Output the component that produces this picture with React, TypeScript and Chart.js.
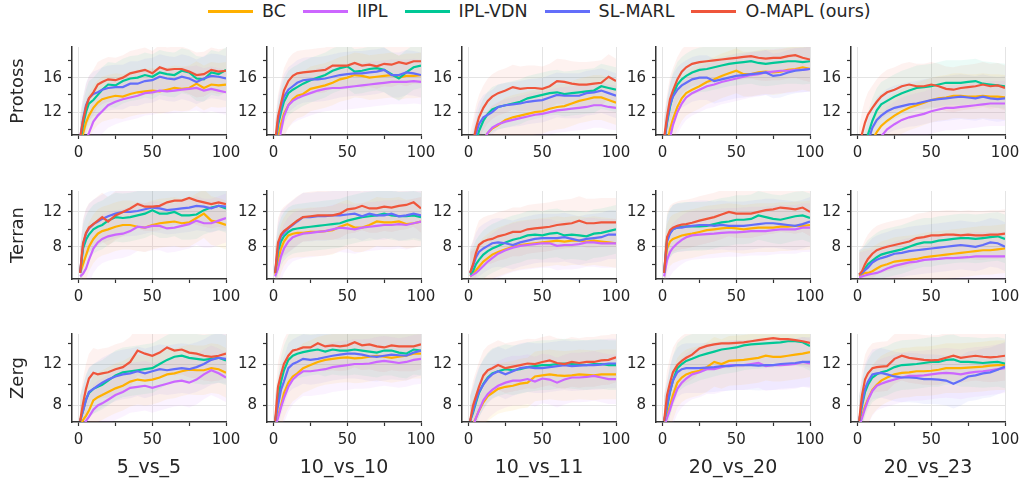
import React, { useEffect, useRef } from "react";
import { Chart, registerables } from "chart.js";

Chart.register(...registerables);

// ---------------- data ----------------
const STEPS = [1, 3, 5, 7, 10, 13, 16, 20, 25, 30, 35, 40, 45, 50, 55, 60, 65, 70, 75, 80, 85, 90, 95, 100];
const METHODS = ["BC", "IIPL", "IPL-VDN", "SL-MARL", "O-MAPL (ours)"];
const RACES = ["Protoss", "Terran", "Zerg"];
const SCENARIOS = ["5_vs_5", "10_vs_10", "10_vs_11", "20_vs_20", "20_vs_23"];
const X_TICKS = [0, 25, 50, 75, 100];
const X_TICK_LABELS = [0, 50, 100];
const Y_TICKS = [[10, 12, 14, 16, 18], [6, 8, 10, 12, 14], [8, 10, 12, 14]];
const Y_TICK_LABELS = [[12, 16], [8, 12], [8, 12]];
const Y_MIN = [9.35, 4.3, 6.4];
const Y_MAX = [19.55, 14.4, 14.9];
const BAND_HALF_WIDTH = [2.6, 2.8, 2.4];

// each panel: [BC, IIPL, IPL-VDN, SL-MARL, O-MAPL]
const PROTOSS_5_VS_5 = [
  [8.0, 9.5, 10.8, 11.6, 12.5, 13.1, 13.5, 13.7, 13.9, 13.8, 14.1, 14.3, 14.4, 14.5, 14.4, 14.6, 14.8, 14.7, 14.8, 15.3, 14.8, 15.2, 15.1, 15.2],
  [7.0, 8.0, 8.8, 9.6, 10.9, 11.6, 12.1, 12.8, 13.2, 13.5, 13.7, 13.9, 14.2, 14.3, 14.5, 14.4, 14.5, 14.6, 14.7, 14.8, 14.5, 14.7, 14.5, 14.3],
  [8.5, 10.5, 12.0, 13.0, 13.4, 14.0, 14.6, 15.2, 15.1, 15.6, 15.9, 16.0, 16.3, 16.1, 16.6, 16.4, 16.3, 16.8, 16.6, 15.9, 15.8, 16.6, 16.4, 16.9],
  [9.0, 11.2, 12.8, 13.6, 14.1, 14.3, 14.6, 14.8, 14.9, 14.9, 15.3, 15.3, 15.6, 15.7, 16.1, 15.9, 15.8, 16.1, 15.9, 15.5, 15.9, 16.2, 16.1, 15.9],
  [9.0, 11.0, 12.6, 13.6, 14.3, 15.2, 15.5, 15.8, 15.7, 16.0, 16.5, 16.7, 16.9, 16.5, 17.2, 16.9, 17.0, 17.0, 16.7, 16.3, 16.4, 16.9, 16.7, 16.8],
];
const PROTOSS_10_VS_10 = [
  [7.0, 9.0, 10.6, 11.8, 12.8, 13.5, 13.9, 14.1, 14.7, 14.9, 15.1, 15.4, 15.8, 16.0, 16.3, 16.2, 16.0, 16.1, 16.2, 16.3, 16.0, 16.2, 16.2, 16.3],
  [6.5, 8.0, 9.8, 11.5, 12.8, 13.3, 13.6, 13.9, 14.2, 14.5, 14.7, 14.8, 14.8, 14.9, 15.0, 15.1, 15.2, 15.3, 15.4, 15.5, 15.5, 15.5, 15.6, 15.5],
  [8.0, 10.5, 12.0, 13.2, 14.2, 14.6, 14.9, 15.3, 15.7, 16.0, 16.3, 16.8, 17.1, 17.3, 16.7, 16.8, 17.0, 17.1, 16.9, 16.4, 15.9, 16.6, 17.2, 17.4],
  [8.0, 11.0, 12.6, 13.8, 14.6, 15.0, 15.4, 15.7, 15.8, 15.8, 15.9, 16.1, 16.3, 16.4, 16.5, 16.5, 16.6, 16.7, 16.9, 16.3, 16.3, 16.6, 16.5, 16.3],
  [8.5, 11.5, 13.0, 14.5, 15.6, 16.2, 16.5, 16.6, 16.7, 16.8, 16.9, 17.4, 17.4, 17.4, 17.7, 17.4, 17.5, 17.3, 17.6, 17.5, 17.8, 17.6, 17.9, 17.9],
];
const PROTOSS_10_VS_11 = [
  [5.0, 6.0, 7.0, 7.8, 8.8, 9.6, 10.1, 10.5, 11.1, 11.4, 11.6, 11.8, 12.0, 12.1, 12.4, 12.6, 12.7, 13.0, 13.3, 13.5, 13.7, 13.7, 13.4, 13.1],
  [5.0, 6.0, 7.0, 7.8, 8.8, 9.6, 10.2, 10.6, 10.9, 11.1, 11.3, 11.5, 11.7, 11.8, 12.0, 12.2, 12.3, 12.4, 12.5, 12.6, 12.8, 12.8, 12.6, 12.5],
  [5.5, 7.0, 8.5, 9.8, 11.0, 11.8, 12.3, 12.6, 12.8, 13.0, 13.2, 13.6, 13.8, 14.0, 14.2, 14.3, 14.1, 14.2, 14.3, 14.4, 14.5, 15.0, 14.8, 14.6],
  [6.0, 7.5, 9.5, 10.6, 11.4, 11.7, 12.0, 12.6, 12.8, 12.9, 13.0, 13.2, 13.3, 13.4, 13.7, 14.0, 13.9, 13.9, 13.9, 14.2, 14.3, 14.5, 14.2, 13.9],
  [7.0, 8.5, 10.2, 11.4, 12.5, 13.3, 13.8, 14.2, 14.5, 14.9, 14.7, 14.8, 14.8, 14.7, 15.0, 15.6, 15.5, 15.3, 15.2, 15.2, 15.3, 15.4, 16.1, 15.6],
];
const PROTOSS_20_VS_20 = [
  [7.0, 8.5, 10.0, 11.2, 12.6, 13.6, 14.2, 14.6, 15.0, 15.5, 15.8, 16.2, 16.5, 16.8, 16.4, 16.4, 16.6, 16.7, 16.6, 16.7, 16.9, 17.0, 17.2, 17.0],
  [6.0, 7.5, 9.0, 10.5, 12.0, 13.0, 13.7, 14.2, 14.6, 15.0, 15.2, 15.5, 15.7, 15.9, 16.1, 16.3, 16.4, 16.6, 16.7, 16.8, 16.8, 16.9, 16.9, 17.0],
  [8.5, 10.8, 12.6, 14.0, 15.2, 15.8, 16.2, 16.6, 16.9, 17.0, 17.2, 17.4, 17.6, 17.7, 17.8, 17.9, 17.7, 17.6, 17.7, 17.8, 17.9, 17.9, 17.8, 17.9],
  [8.5, 11.0, 12.8, 13.8, 14.6, 15.1, 15.4, 15.8, 16.0, 16.0, 15.6, 15.8, 16.0, 16.2, 16.3, 16.4, 16.5, 16.6, 16.2, 16.3, 16.6, 16.8, 16.9, 17.0],
  [9.0, 11.5, 13.5, 14.5, 15.8, 16.7, 17.2, 17.6, 17.8, 17.9, 18.0, 18.1, 18.2, 18.3, 18.4, 18.5, 18.3, 18.2, 18.3, 18.3, 18.5, 18.6, 18.3, 18.1],
];
const PROTOSS_20_VS_23 = [
  [4.5, 5.5, 6.5, 7.5, 8.8, 9.7, 10.4, 11.0, 11.6, 12.1, 12.5, 12.8, 13.1, 13.4, 13.6, 13.7, 13.9, 13.9, 13.8, 13.8, 13.9, 13.8, 13.8, 13.7],
  [4.5, 5.0, 5.8, 6.6, 7.6, 8.4, 9.2, 10.0, 10.6, 11.1, 11.4, 11.6, 11.8, 12.1, 12.3, 12.5, 12.5, 12.6, 12.7, 12.8, 12.9, 13.0, 13.0, 13.0],
  [5.5, 7.0, 8.2, 9.4, 11.0, 12.2, 12.9, 13.3, 13.8, 14.2, 14.5, 14.8, 14.9, 15.0, 15.2, 15.4, 15.4, 15.4, 15.5, 15.6, 15.3, 15.2, 15.1, 15.0],
  [5.0, 6.0, 7.2, 8.5, 10.2, 11.1, 11.6, 12.1, 12.5, 12.7, 12.9, 13.0, 13.2, 13.4, 13.5, 13.6, 13.7, 13.8, 13.7, 13.6, 13.8, 13.6, 13.5, 13.6],
  [7.5, 9.5, 10.8, 11.7, 12.5, 13.2, 13.8, 14.3, 14.6, 15.0, 15.2, 15.0, 15.0, 15.2, 15.0, 14.7, 14.6, 14.8, 14.9, 15.0, 15.2, 15.0, 15.1, 14.8],
];
const TERRAN_5_VS_5 = [
  [5.0, 6.0, 7.0, 8.0, 8.9, 9.5, 9.8, 10.0, 10.3, 10.5, 10.5, 10.3, 10.2, 10.5, 10.7, 10.8, 10.9, 10.7, 10.8, 11.3, 11.8, 11.0, 10.8, 10.5],
  [4.6, 4.9, 5.5, 6.5, 7.8, 8.5, 8.9, 9.2, 9.4, 9.5, 9.8, 10.3, 10.2, 10.4, 10.4, 10.1, 10.2, 10.4, 10.6, 11.0, 10.7, 10.7, 11.0, 11.3],
  [5.0, 7.8, 8.8, 9.4, 10.0, 10.3, 10.5, 11.0, 11.4, 11.3, 11.4, 11.6, 11.8, 12.2, 11.8, 11.8, 12.0, 11.6, 11.6, 11.7, 12.2, 12.5, 12.7, 12.4],
  [5.0, 8.2, 9.5, 10.1, 10.6, 10.9, 11.2, 11.5, 11.8, 12.0, 12.0, 12.1, 12.3, 12.5, 12.4, 12.2, 12.3, 12.4, 12.5, 12.7, 12.6, 12.4, 12.7, 12.6],
  [5.0, 8.4, 9.6, 10.2, 10.6, 11.0, 11.4, 10.9, 11.6, 12.0, 12.4, 12.9, 12.6, 12.6, 12.7, 13.1, 13.3, 13.3, 13.6, 13.3, 13.1, 12.9, 13.1, 12.9],
];
const TERRAN_10_VS_10 = [
  [4.8, 6.5, 7.8, 8.6, 9.3, 9.5, 9.6, 9.6, 9.7, 9.7, 9.8, 9.9, 10.3, 10.6, 10.2, 10.2, 10.5, 10.9, 10.8, 10.8, 10.9, 10.6, 10.7, 10.9],
  [4.6, 5.5, 6.9, 7.8, 8.6, 9.1, 9.3, 9.5, 9.6, 9.7, 9.8, 10.0, 10.2, 10.1, 10.0, 10.2, 10.3, 10.4, 10.5, 10.5, 10.6, 10.5, 10.7, 10.9],
  [5.0, 7.5, 8.6, 9.2, 9.7, 10.0, 10.1, 10.2, 10.3, 10.4, 10.5, 10.6, 10.7, 11.0, 11.2, 11.4, 11.5, 11.6, 11.8, 11.6, 11.5, 11.5, 11.6, 11.4],
  [5.0, 8.0, 9.2, 9.6, 10.1, 10.5, 10.9, 11.4, 11.4, 11.5, 11.5, 11.6, 11.6, 11.7, 11.8, 11.5, 11.8, 11.6, 11.6, 11.8, 11.5, 11.6, 11.8, 11.6],
  [5.0, 8.5, 9.4, 9.8, 10.2, 10.6, 11.0, 11.4, 11.5, 11.6, 11.6, 11.6, 11.8, 12.3, 12.4, 12.7, 12.4, 12.4, 12.6, 12.5, 12.7, 12.8, 13.1, 12.4],
];
const TERRAN_10_VS_11 = [
  [4.6, 4.9, 5.3, 5.7, 6.3, 6.7, 7.1, 7.4, 7.7, 8.0, 8.2, 8.3, 8.4, 8.5, 8.6, 8.7, 8.6, 8.7, 8.7, 8.6, 8.7, 8.6, 8.5, 8.4],
  [4.6, 4.8, 5.0, 5.3, 5.8, 6.3, 6.7, 7.2, 7.6, 7.9, 8.1, 8.2, 8.3, 8.4, 8.4, 8.1, 8.2, 8.2, 8.3, 8.5, 8.5, 8.4, 8.4, 8.4],
  [4.8, 5.2, 6.0, 6.5, 7.1, 7.5, 7.8, 8.1, 8.5, 8.8, 9.0, 9.3, 9.4, 9.3, 9.5, 9.6, 9.3, 9.4, 9.3, 9.2, 9.5, 9.6, 9.8, 10.0],
  [5.0, 5.8, 6.8, 7.4, 7.8, 8.1, 8.4, 8.5, 8.4, 8.2, 8.5, 8.7, 8.9, 9.0, 9.0, 9.0, 9.1, 8.9, 8.7, 8.9, 9.0, 9.1, 9.4, 9.4],
  [5.0, 6.0, 7.3, 8.2, 8.6, 8.8, 8.9, 9.2, 9.4, 9.7, 9.7, 10.0, 10.1, 10.2, 10.3, 10.5, 10.6, 10.7, 11.0, 10.7, 10.7, 10.8, 10.8, 10.8],
];
const TERRAN_20_VS_20 = [
  [5.0, 7.8, 8.6, 8.9, 9.1, 9.3, 9.4, 9.5, 9.7, 9.9, 10.0, 10.1, 10.2, 10.1, 10.0, 10.1, 10.2, 10.2, 10.2, 10.3, 10.3, 10.4, 10.4, 10.5],
  [4.6, 6.5, 7.4, 7.9, 8.4, 8.8, 9.1, 9.3, 9.4, 9.45, 9.5, 9.6, 9.65, 9.65, 9.7, 9.8, 9.8, 9.8, 9.9, 10.0, 10.0, 10.0, 10.2, 10.2],
  [5.0, 8.9, 9.6, 10.0, 10.2, 10.3, 10.35, 10.35, 10.35, 10.4, 10.6, 10.8, 10.9, 11.1, 11.1, 11.2, 11.6, 11.4, 11.2, 11.1, 11.3, 11.5, 11.6, 11.3],
  [5.0, 8.6, 9.5, 10.0, 10.2, 10.2, 10.3, 10.4, 10.5, 10.5, 10.4, 10.5, 10.4, 10.4, 10.4, 10.5, 10.6, 10.7, 10.7, 10.6, 10.5, 10.4, 10.6, 10.9],
  [5.0, 9.1, 9.9, 10.2, 10.4, 10.55, 10.6, 10.75, 11.0, 11.2, 11.4, 11.7, 12.0, 11.8, 11.8, 11.8, 12.0, 12.2, 12.3, 12.5, 12.4, 12.3, 12.5, 12.0],
];
const TERRAN_20_VS_23 = [
  [4.6, 4.8, 5.0, 5.0, 5.2, 5.5, 5.8, 6.0, 6.3, 6.4, 6.5, 6.6, 6.8, 6.9, 7.0, 7.1, 7.2, 7.3, 7.4, 7.5, 7.6, 7.6, 7.7, 7.8],
  [4.5, 4.6, 4.7, 4.8, 4.9, 5.0, 5.2, 5.5, 5.8, 6.0, 6.2, 6.3, 6.5, 6.55, 6.6, 6.7, 6.7, 6.75, 6.8, 6.9, 6.9, 6.9, 6.9, 6.9],
  [4.8, 5.0, 5.5, 6.0, 6.4, 6.8, 7.1, 7.3, 7.5, 7.7, 8.0, 8.3, 8.5, 8.5, 8.7, 8.8, 8.9, 9.0, 9.0, 8.9, 9.0, 9.1, 9.2, 8.9],
  [4.8, 5.0, 5.3, 5.6, 6.2, 6.5, 6.7, 6.9, 7.2, 7.3, 7.5, 7.6, 7.7, 7.8, 7.9, 8.0, 8.1, 8.2, 8.1, 8.0, 8.2, 8.5, 8.4, 8.0],
  [4.8, 5.2, 6.0, 6.6, 7.2, 7.6, 7.8, 8.0, 8.2, 8.4, 8.6, 9.0, 9.1, 9.3, 9.3, 9.4, 9.4, 9.3, 9.4, 9.3, 9.3, 9.4, 9.4, 9.5],
];
const ZERG_5_VS_5 = [
  [6.0, 6.6, 7.0, 7.5, 8.5, 8.8, 9.0, 9.3, 9.65, 9.9, 10.3, 10.5, 10.4, 10.5, 10.7, 11.0, 11.1, 11.3, 11.45, 11.4, 11.4, 11.6, 11.5, 11.15],
  [5.5, 6.0, 6.5, 6.9, 7.6, 8.0, 8.2, 8.55, 9.0, 9.3, 9.7, 9.8, 9.9, 9.7, 9.9, 10.1, 10.3, 10.4, 10.2, 10.5, 11.0, 11.4, 11.1, 10.7],
  [6.5, 7.5, 8.6, 9.2, 9.6, 9.8, 10.0, 10.4, 10.9, 11.2, 11.3, 11.4, 11.5, 11.6, 12.0, 12.4, 12.7, 12.8, 12.6, 12.5, 12.4, 12.5, 12.6, 12.35],
  [6.5, 7.5, 8.5, 9.3, 9.6, 9.9, 10.2, 10.5, 10.8, 11.0, 11.1, 11.3, 11.1, 11.3, 11.5, 11.4, 11.5, 11.6, 11.5, 11.7, 12.0, 12.4, 12.6, 12.5],
  [6.5, 8.2, 9.6, 10.6, 11.15, 11.0, 11.1, 11.2, 11.5, 11.7, 12.2, 13.3, 13.0, 12.8, 13.1, 13.6, 13.3, 13.4, 13.1, 13.0, 12.8, 12.7, 12.8, 13.0],
];
const ZERG_10_VS_10 = [
  [6.0, 7.0, 8.0, 9.2, 10.2, 10.8, 11.1, 11.6, 11.9, 12.2, 12.4, 12.5, 12.6, 12.65, 12.55, 12.6, 12.7, 12.8, 12.7, 12.6, 12.7, 12.8, 13.0, 13.0],
  [6.0, 6.8, 7.8, 8.7, 9.8, 10.5, 10.9, 11.3, 11.3, 11.4, 11.5, 11.7, 11.8, 11.9, 12.0, 12.0, 12.05, 12.2, 12.3, 12.2, 12.1, 12.2, 12.4, 12.5],
  [6.5, 8.5, 10.3, 11.4, 12.4, 12.8, 13.0, 13.15, 13.3, 13.4, 13.2, 13.4, 13.3, 13.3, 13.4, 13.3, 13.2, 13.1, 13.3, 13.3, 13.1, 13.0, 13.4, 13.3],
  [6.5, 8.0, 9.5, 10.3, 11.6, 12.0, 12.2, 12.5, 12.4, 12.5, 12.65, 12.8, 12.9, 13.0, 13.0, 12.9, 12.75, 12.7, 12.8, 12.9, 12.85, 12.8, 13.1, 13.3],
  [6.5, 9.8, 11.0, 12.0, 12.8, 13.3, 13.4, 13.6, 13.6, 14.0, 13.7, 13.8, 13.7, 13.8, 14.1, 13.8, 13.9, 13.7, 13.6, 13.8, 13.7, 13.7, 13.7, 13.9],
];
const ZERG_10_VS_11 = [
  [5.5, 6.2, 6.8, 7.5, 8.3, 8.9, 9.2, 9.6, 9.8, 9.9, 10.1, 10.2, 10.8, 10.9, 11.0, 10.9, 10.85, 10.9, 11.0, 10.95, 10.9, 11.0, 11.0, 11.0],
  [5.5, 6.0, 6.8, 7.5, 8.5, 9.1, 9.5, 9.9, 10.2, 10.4, 10.4, 10.55, 10.3, 10.6, 10.5, 10.2, 10.5, 10.7, 10.7, 10.75, 10.85, 10.7, 10.55, 10.55],
  [6.5, 7.3, 8.3, 9.2, 10.1, 10.7, 11.1, 11.3, 11.5, 11.4, 11.5, 11.7, 11.8, 11.9, 11.9, 12.0, 12.05, 12.0, 11.95, 11.9, 12.0, 12.0, 11.9, 11.9],
  [6.5, 7.5, 8.5, 9.3, 10.0, 10.6, 11.0, 11.3, 11.0, 11.3, 11.6, 11.7, 11.6, 11.6, 11.7, 11.8, 11.9, 11.8, 11.85, 11.9, 11.9, 11.95, 12.05, 12.05],
  [6.5, 8.0, 8.9, 9.8, 10.9, 11.4, 11.6, 11.9, 11.6, 11.75, 11.9, 12.05, 12.0, 12.2, 12.35, 12.1, 12.0, 12.2, 12.1, 12.2, 12.2, 12.35, 12.4, 12.65],
];
const ZERG_20_VS_20 = [
  [6.0, 7.0, 8.0, 9.0, 10.2, 10.7, 11.0, 11.2, 11.35, 11.7, 12.2, 12.0, 12.3, 12.35, 12.4, 12.5, 12.6, 12.8, 12.7, 12.7, 12.8, 12.9, 13.0, 13.15],
  [6.0, 6.8, 7.6, 8.5, 9.6, 10.2, 10.6, 11.0, 11.2, 11.5, 11.5, 11.7, 11.9, 11.9, 11.9, 12.0, 12.1, 11.8, 11.9, 11.9, 11.95, 12.0, 12.2, 12.05],
  [6.5, 7.8, 9.3, 10.4, 11.6, 12.0, 12.3, 12.5, 12.8, 13.0, 13.2, 13.4, 13.5, 13.6, 13.8, 13.9, 13.95, 14.0, 14.05, 14.1, 14.2, 14.2, 14.1, 13.75],
  [6.5, 8.0, 9.4, 10.4, 11.2, 11.5, 11.6, 11.6, 11.6, 11.65, 11.7, 11.8, 11.8, 11.9, 11.9, 11.9, 11.85, 11.9, 11.9, 12.0, 12.05, 12.1, 12.2, 12.2],
  [6.5, 9.0, 10.2, 11.2, 11.9, 12.3, 12.6, 12.9, 13.5, 13.75, 13.9, 14.0, 14.0, 14.05, 14.1, 14.2, 14.3, 14.4, 14.5, 14.4, 14.4, 14.3, 14.2, 14.05],
];
const ZERG_20_VS_23 = [
  [6.0, 7.0, 7.9, 8.6, 9.5, 10.0, 10.4, 10.7, 11.0, 11.15, 11.2, 11.3, 11.3, 11.35, 11.45, 11.6, 11.6, 11.6, 11.65, 11.7, 11.75, 11.85, 11.9, 11.9],
  [6.0, 6.8, 7.7, 8.5, 9.4, 9.9, 10.1, 10.3, 10.5, 10.7, 10.85, 10.85, 10.9, 11.0, 11.1, 11.15, 11.1, 11.0, 11.15, 11.25, 11.3, 11.4, 11.5, 11.6],
  [6.5, 8.0, 9.3, 10.0, 10.7, 11.0, 11.2, 11.35, 11.7, 11.9, 11.95, 12.0, 12.1, 12.2, 12.2, 12.4, 12.45, 12.2, 12.2, 12.15, 12.1, 12.15, 12.2, 12.05],
  [6.5, 8.2, 9.6, 10.3, 11.0, 11.1, 11.15, 11.0, 10.8, 10.7, 10.7, 10.65, 10.55, 10.55, 10.5, 10.4, 10.1, 10.4, 10.8, 10.9, 11.1, 11.2, 11.45, 11.75],
  [6.5, 9.0, 10.5, 11.1, 11.6, 11.7, 11.75, 11.8, 12.5, 12.8, 12.6, 12.5, 12.4, 12.35, 12.4, 12.6, 12.8, 12.6, 12.7, 12.8, 12.7, 12.65, 12.7, 12.8],
];

const PANELS = [
  [PROTOSS_5_VS_5, PROTOSS_10_VS_10, PROTOSS_10_VS_11, PROTOSS_20_VS_20, PROTOSS_20_VS_23],
  [TERRAN_5_VS_5, TERRAN_10_VS_10, TERRAN_10_VS_11, TERRAN_20_VS_20, TERRAN_20_VS_23],
  [ZERG_5_VS_5, ZERG_10_VS_10, ZERG_10_VS_11, ZERG_20_VS_20, ZERG_20_VS_23],
];

// ---------------- styling ----------------
const COLORS = ["#FFB000", "#CC66FF", "#00C896", "#636EFA", "#EF553B"];
const BAND_COLORS = [
  "rgba(255,176,0,0.08)",
  "rgba(204,102,255,0.08)",
  "rgba(0,200,150,0.08)",
  "rgba(99,110,250,0.08)",
  "rgba(239,85,59,0.08)",
];
const FONT = "'DejaVu Sans', 'Liberation Sans', sans-serif";
const TEXT = "#262626";

const LEFT_W = 64;
const RIGHT_PAD = 20;
const TOP_PAD = 10;
const PLOT_W = 154;
const PLOT_H = 93;
const BOTTOM_H = 58;
const CANVAS_W = LEFT_W + PLOT_W + RIGHT_PAD;
const CANVAS_H = TOP_PAD + PLOT_H + BOTTOM_H;
const SPINE_X0 = 71.7;
const COL_STEP = 194.9;
const PLOT_TOP0 = 42.3;
const ROW_STEP = 143.2;

function Panel({ row, col }: { row: number; col: number }) {
  const ref = useRef<HTMLCanvasElement | null>(null);

  useEffect(() => {
    if (!ref.current) return;
    const series = PANELS[row][col];
    const datasets: any[] = [];
    METHODS.forEach((m, i) => {
      datasets.push({
        label: m,
        data: STEPS.map((x, k) => ({ x, y: series[i][k] })),
        borderColor: COLORS[i],
        borderWidth: 2.2,
        pointRadius: 0,
        tension: 0,
        fill: false,
        order: 4 - i,
      });
    });
    const hw = BAND_HALF_WIDTH[row];
    METHODS.forEach((m, i) => {
      datasets.push({
        label: m + " low",
        data: STEPS.map((x, k) => ({ x, y: series[i][k] - hw })),
        borderColor: "rgba(0,0,0,0)",
        borderWidth: 1,
        pointRadius: 0,
        tension: 0,
        fill: false,
        order: 10,
      });
      datasets.push({
        label: m + " high",
        data: STEPS.map((x, k) => ({ x, y: series[i][k] + hw })),
        borderColor: "rgba(0,0,0,0)",
        borderWidth: 1,
        pointRadius: 0,
        tension: 0,
        fill: "-1",
        backgroundColor: BAND_COLORS[i],
        order: 10,
      });
    });

    const chart = new Chart(ref.current, {
      type: "line",
      data: { datasets },
      options: {
        animation: false,
        responsive: false,
        devicePixelRatio: 1,
        events: [],
        layout: { padding: { top: TOP_PAD, right: RIGHT_PAD, left: 0, bottom: 0 } },
        plugins: { legend: { display: false }, tooltip: { enabled: false }, title: { display: false } },
        scales: {
          x: {
            type: "linear",
            min: -4.5,
            max: 100,
            afterBuildTicks: (s: any) => {
              s.ticks = X_TICKS.map((v) => ({ value: v }));
            },
            afterFit: (s: any) => {
              s.height = BOTTOM_H;
            },
            ticks: {
              autoSkip: false,
              maxRotation: 0,
              minRotation: 0,
              padding: 5,
              color: TEXT,
              font: { family: FONT, size: 15 },
              callback: (v: any) => (X_TICK_LABELS.includes(v) ? String(v) : ""),
            },
            grid: {
              color: (ctx: any) =>
                ctx.tick && X_TICK_LABELS.includes(ctx.tick.value) ? "#e4e4e4" : "rgba(0,0,0,0)",
              lineWidth: 1,
              tickColor: "#333333",
              tickLength: 4,
              tickWidth: 1.2,
            },
            border: { display: true, color: "#333333", width: 1.5 },
            title: {
              display: row === 2,
              text: SCENARIOS[col],
              color: TEXT,
              font: { family: FONT, size: 19 },
              padding: { top: 0, bottom: 1 },
            },
          },
          y: {
            type: "linear",
            min: Y_MIN[row],
            max: Y_MAX[row],
            afterBuildTicks: (s: any) => {
              s.ticks = Y_TICKS[row].map((v) => ({ value: v }));
            },
            afterFit: (s: any) => {
              s.width = LEFT_W;
            },
            ticks: {
              autoSkip: false,
              padding: 6,
              color: TEXT,
              font: { family: FONT, size: 15 },
              callback: (v: any) => (Y_TICK_LABELS[row].includes(v) ? String(v) : ""),
            },
            grid: {
              color: (ctx: any) =>
                ctx.tick && Y_TICK_LABELS[row].includes(ctx.tick.value) ? "#e4e4e4" : "rgba(0,0,0,0)",
              lineWidth: 1,
              tickColor: "#333333",
              tickLength: 4,
              tickWidth: 1.2,
            },
            border: { display: true, color: "#333333", width: 1.5 },
            title: {
              display: col === 0,
              text: RACES[row],
              color: TEXT,
              font: { family: FONT, size: 18 },
              padding: { top: 0, bottom: 0 },
            },
          },
        },
      } as any,
    });
    return () => chart.destroy();
  }, [row, col]);

  const left = Math.round(SPINE_X0 + col * COL_STEP - LEFT_W);
  const top = Math.round(PLOT_TOP0 + row * ROW_STEP - TOP_PAD);
  return (
    <canvas
      ref={ref}
      width={CANVAS_W}
      height={CANVAS_H}
      style={{ position: "absolute", left, top, width: CANVAS_W, height: CANVAS_H }}
    />
  );
}

function Legend() {
  return (
    <div
      style={{
        position: "absolute",
        left: 208,
        top: 1,
        height: 20,
        display: "flex",
        alignItems: "center",
        fontFamily: FONT,
        fontSize: 17.5,
        color: TEXT,
        whiteSpace: "nowrap",
      }}
    >
      {METHODS.map((m, i) => (
        <div key={m} style={{ display: "flex", alignItems: "center", marginRight: i < METHODS.length - 1 ? 17 : 0 }}>
          <div style={{ width: 45, height: 3, background: COLORS[i], marginRight: 9 }} />
          <span>{m}</span>
        </div>
      ))}
    </div>
  );
}

export default function App() {
  const cells: any[] = [];
  for (let r = 0; r < 3; r++) for (let c = 0; c < 5; c++) cells.push(<Panel key={r + "-" + c} row={r} col={c} />);
  return (
    <div
      style={{
        position: "absolute",
        left: 0,
        top: 0,
        width: 1021,
        height: 479,
        overflow: "hidden",
        background: "#ffffff",
      }}
    >
      <Legend />
      {cells}
    </div>
  );
}
